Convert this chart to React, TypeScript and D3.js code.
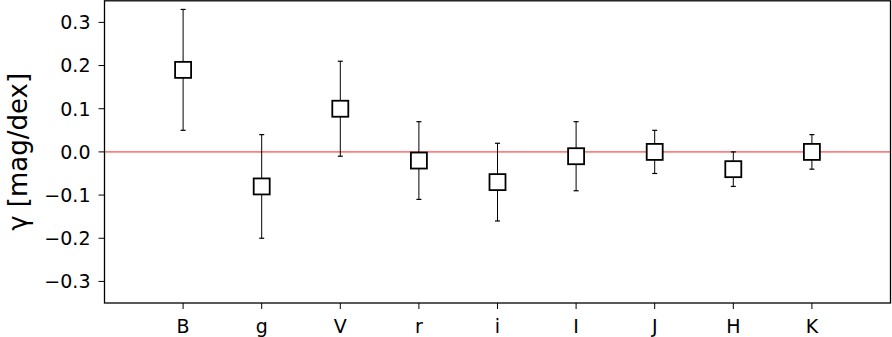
import React from "react";
import * as d3 from "d3";

const bands = ["B", "g", "V", "r", "i", "I", "J", "H", "K"];
const gammaValues = [0.19, -0.08, 0.1, -0.02, -0.07, -0.01, 0.0, -0.04, 0.0];
const gammaErrors = [0.14, 0.12, 0.11, 0.09, 0.09, 0.08, 0.05, 0.04, 0.04];
const yTicks = [-0.3, -0.2, -0.1, 0.0, 0.1, 0.2, 0.3];

const W = 892;
const H = 337;
const margin = { left: 104.5, right: 1.5, top: 0.8, bottom: 34 };

export default function App() {
  const x = d3
    .scaleLinear()
    .domain([0, bands.length + 1])
    .range([margin.left, W - margin.right]);
  const y = d3
    .scaleLinear()
    .domain([-0.35, 0.35])
    .range([H - margin.bottom, margin.top]);
  const fmt = (v: number) => d3.format(".1f")(v).replace("-", "\u2212");
  const font = "DejaVu Sans";
  const ms = 16;
  return (
    <svg
      width={W}
      height={H}
      style={{ position: "absolute", left: 0, top: 0, background: "#fff" }}
      fontFamily={font}
    >
      {/* zero line */}
      <line
        x1={x(0)}
        x2={x(bands.length + 1)}
        y1={y(0)}
        y2={y(0)}
        stroke="#ff7f7f"
        strokeWidth={1.6}
      />
      {bands.map((b, i) => {
        const cx = x(i + 1);
        const v = gammaValues[i];
        const e = gammaErrors[i];
        return (
          <g key={b}>
            <line x1={cx} x2={cx} y1={y(v - e)} y2={y(v + e)} stroke="#000" strokeWidth={1} />
            <line x1={cx - 2.5} x2={cx + 2.5} y1={y(v - e)} y2={y(v - e)} stroke="#000" strokeWidth={1.2} />
            <line x1={cx - 2.5} x2={cx + 2.5} y1={y(v + e)} y2={y(v + e)} stroke="#000" strokeWidth={1.2} />
            <rect
              x={cx - ms / 2}
              y={y(v) - ms / 2}
              width={ms}
              height={ms}
              fill="#fff"
              stroke="#000"
              strokeWidth={1.8}
            />
          </g>
        );
      })}
      {/* axes frame */}
      <rect
        x={margin.left}
        y={margin.top}
        width={W - margin.right - margin.left}
        height={H - margin.bottom - margin.top}
        fill="none"
        stroke="#000"
        strokeWidth={1.3}
      />
      {/* y ticks */}
      {yTicks.map((t) => (
        <g key={t}>
          <line x1={margin.left - 6} x2={margin.left} y1={y(t)} y2={y(t)} stroke="#000" strokeWidth={1} />
          <text
            x={margin.left - 14}
            y={y(t)}
            dy="0.36em"
            textAnchor="end"
            fontSize={19}
            fill="#000"
          >
            {fmt(t)}
          </text>
        </g>
      ))}
      {/* x ticks */}
      {bands.map((b, i) => (
        <g key={b}>
          <line x1={x(i + 1)} x2={x(i + 1)} y1={H - margin.bottom} y2={H - margin.bottom + 6} stroke="#000" strokeWidth={1} />
          <text x={x(i + 1)} y={332.5} textAnchor="middle" fontSize={19} fill="#000">
            {b}
          </text>
        </g>
      ))}
      <text
        transform={`translate(${27},${(margin.top + H - margin.bottom) / 2}) rotate(-90)`}
        textAnchor="middle"
        fontSize={26}
        fill="#000"
      >
        γ [mag/dex]
      </text>
    </svg>
  );
}
